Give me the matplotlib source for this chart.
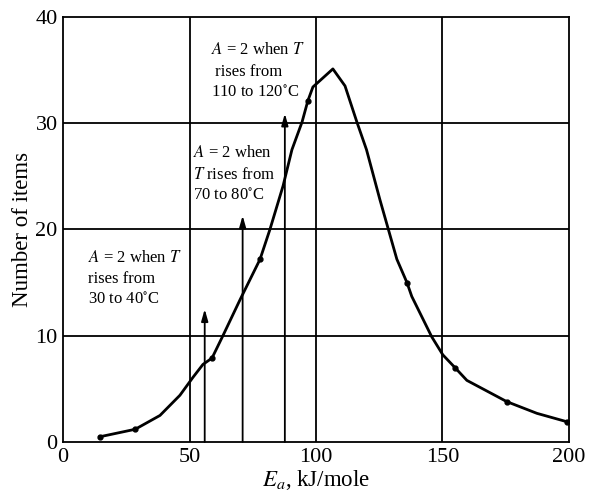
import numpy as np
import matplotlib.pyplot as plt

plt.rcParams['font.family'] = ['Liberation Serif', 'DejaVu Serif']
plt.rcParams['mathtext.fontset'] = 'stix'

# curve
ea = [14.6, 28.5, 38.3, 46.2, 51.4, 55.3, 58.9, 63.2, 70.0, 77.9, 81.8, 87.0, 90.5,
      94.5, 96.8, 98.8, 106.7, 111.5, 116.2, 120.0, 125.3, 132.0, 136.0, 137.9,
      145.8, 150.2, 155.0, 159.7, 175.5, 187.4, 199.4]
items = [0.5, 1.2, 2.5, 4.4, 6.1, 7.3, 7.9, 10.0, 13.4, 17.2, 20.0, 24.1, 27.5,
         30.1, 32.1, 33.4, 35.1, 33.5, 30.1, 27.5, 22.8, 17.2, 15.0, 13.7,
         9.9, 8.2, 7.0, 5.8, 3.8, 2.7, 1.9]
# measured points (dots)
dot_ea = [14.6, 28.5, 58.9, 77.9, 96.8, 136.0, 155.0, 175.5, 199.4]
dot_items = [0.5, 1.2, 7.9, 17.2, 32.1, 15.0, 7.0, 3.8, 1.9]

arrow_x = [56.0, 71.0, 87.7]
arrow_top = [12.5, 21.3, 30.9]
notes = ["$A$ = 2 when $T$\nrises from\n30 to 40$^{\\circ}$C",
         "$A$ = 2 when\n$T$ rises from\n70 to 80$^{\\circ}$C",
         "$A$ = 2 when $T$\n rises from\n110 to 120$^{\\circ}$C"]
note_xy = [(10.0, 18.1), (51.3, 27.9), (58.5, 37.6)]

fig = plt.figure(figsize=(5.9, 4.95), dpi=100)
ax = fig.add_axes([0.107, 0.107, 0.857, 0.859])

for gx in [50, 100, 150]:
    ax.axvline(gx, color='black', lw=1.3)
for gy in [10, 20, 30]:
    ax.axhline(gy, color='black', lw=1.3)

for x, top in zip(arrow_x, arrow_top):
    ax.annotate('', xy=(x, top), xytext=(x, 0),
                arrowprops=dict(arrowstyle='-|>,head_width=0.2,head_length=0.7',
                                color='black', lw=1.3, shrinkA=0, shrinkB=0))

ax.plot(ea, items, color='black', lw=2.0, solid_joinstyle='round')
ax.plot(dot_ea, dot_items, 'o', color='black', ms=3.5)

for (tx, ty), t in zip(note_xy, notes):
    ax.text(tx, ty, t, fontsize=12, va='top', ha='left', linespacing=1.45)

ax.set_xlim(0, 200)
ax.set_ylim(0, 40)
ax.set_xticks([0, 50, 100, 150, 200])
ax.set_yticks([0, 10, 20, 30, 40])
ax.tick_params(length=0, labelsize=16, pad=4)
for s in ax.spines.values():
    s.set_linewidth(1.3)
ax.set_ylabel('Number of items', fontsize=16.5, labelpad=2)
ax.set_xlabel('$E_a$, kJ/mole', fontsize=16.5, labelpad=1)

fig.savefig('out.png', dpi=100)
